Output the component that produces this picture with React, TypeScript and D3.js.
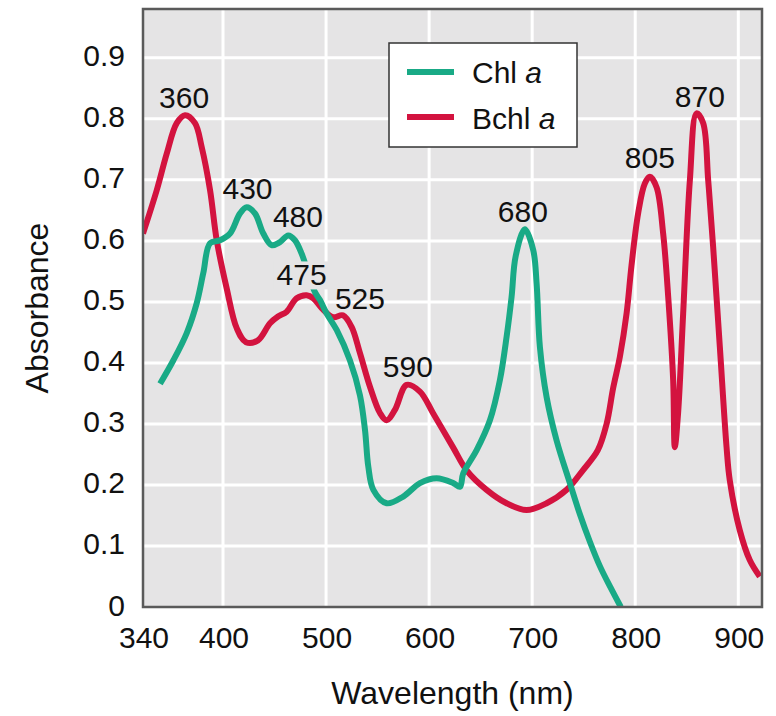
import React from "react";
import * as d3 from "d3";

// wavelength (nm) and absorbance
const chlWave = [352.8, 362.7, 372.8, 380.3, 385.2, 390.3, 397.8, 406.8, 416.5, 423, 431, 439.1, 447.2, 455.3, 463.3, 469.8, 476.3, 482.5, 489.2, 494.1, 500.6, 510.3, 523.2, 532.9, 537.8, 541, 545.9, 558.8, 574.9, 591.1, 607.3, 623.4, 629.9, 633.1, 646.1, 659, 668.7, 675.2, 680, 684, 692.9, 701, 704.3, 707.5, 714, 723.7, 736.6, 746.3, 756, 765.7, 776, 786];
const chlAbs = [0.366, 0.404, 0.449, 0.498, 0.547, 0.596, 0.601, 0.612, 0.645, 0.655, 0.645, 0.612, 0.593, 0.598, 0.609, 0.601, 0.579, 0.548, 0.516, 0.503, 0.481, 0.454, 0.404, 0.347, 0.29, 0.23, 0.192, 0.17, 0.181, 0.203, 0.211, 0.203, 0.197, 0.219, 0.257, 0.306, 0.372, 0.443, 0.508, 0.575, 0.619, 0.585, 0.53, 0.426, 0.344, 0.273, 0.203, 0.152, 0.107, 0.067, 0.032, 0.0];

const bchlWave = [340, 350.3, 357.8, 365.3, 371.5, 379, 384, 390.3, 395.3, 403.6, 413.3, 422.3, 433.9, 445.6, 453.4, 461.8, 471.5, 481.2, 487.6, 495.7, 506.7, 516.4, 524.8, 532.9, 542.6, 552.3, 558.8, 566.8, 578.2, 591.1, 603.7, 623.1, 636.4, 655.8, 675.2, 694.6, 714, 733.4, 749.2, 763.7, 772.2, 778.6, 785.1, 791.6, 796.4, 802.8, 809.3, 814.2, 820.7, 827.1, 832, 836.8, 838.4, 841.6, 846.5, 853, 859.5, 865.9, 870.8, 875.6, 882.1, 888.6, 891.7, 901.4, 911.1, 920.8];
const bchlAbs = [0.612, 0.683, 0.743, 0.793, 0.806, 0.793, 0.754, 0.683, 0.601, 0.522, 0.457, 0.434, 0.437, 0.465, 0.476, 0.484, 0.506, 0.511, 0.506, 0.49, 0.475, 0.478, 0.459, 0.416, 0.361, 0.318, 0.306, 0.323, 0.364, 0.353, 0.318, 0.262, 0.224, 0.192, 0.17, 0.159, 0.17, 0.192, 0.224, 0.257, 0.3, 0.359, 0.41, 0.481, 0.56, 0.645, 0.694, 0.705, 0.688, 0.612, 0.508, 0.372, 0.262, 0.318, 0.481, 0.699, 0.809, 0.793, 0.699, 0.59, 0.426, 0.262, 0.208, 0.126, 0.077, 0.05];

// peak annotations: label, wavelength and absorbance of the text anchor
const peakText = ["360", "430", "480", "475", "525", "590", "680", "805", "870"];
const peakWave = [370.8, 423.8, 472.7, 476.3, 532.9, 579.4, 691, 814.2, 862.7];
const peakAbs = [0.817, 0.669, 0.623, 0.527, 0.489, 0.377, 0.631, 0.719, 0.819];

const xTicks = [340, 400, 500, 600, 700, 800, 900];
const yTicks = [0, 0.1, 0.2, 0.3, 0.4, 0.5, 0.6, 0.7, 0.8, 0.9];

const GREEN = "#19aa86";
const RED = "#d3133f";
const FONT = "'Liberation Sans', Arial, Helvetica, sans-serif";

export default function App() {
  const width = 776;
  const height = 716;
  const left = 143, right = 762, top = 9, bottom = 607;

  // the axis is drawn stretched between 340 and 400
  const x = d3.scaleLinear().domain([340, 400, 923]).range([left, 223, right]);
  const y = d3.scaleLinear().domain([0, 0.98]).range([bottom, top]);

  const spectrum = d3
    .line<[number, number]>()
    .x((d) => x(d[0]))
    .y((d) => y(d[1]))
    .curve(d3.curveCatmullRom.alpha(0.5));

  const chlPath = spectrum(chlWave.map((w, i) => [w, chlAbs[i]] as [number, number]));
  const bchlPath = spectrum(bchlWave.map((w, i) => [w, bchlAbs[i]] as [number, number]));

  const fs = 30;
  const titleFs = 32;

  return (
    <svg
      width={width}
      height={height}
      style={{ position: "absolute", left: 0, top: 0, background: "#fff" }}
      fontFamily={FONT}
    >
      <defs>
        <clipPath id="plot">
          <rect x={left} y={top} width={right - left} height={bottom - top} />
        </clipPath>
      </defs>

      <rect x={left} y={top} width={right - left} height={bottom - top} fill="#e5e4e5" />

      {xTicks.slice(1).map((t) => (
        <line key={"gx" + t} x1={x(t)} x2={x(t)} y1={top} y2={bottom} stroke="#fff" strokeWidth={3} />
      ))}
      {yTicks.slice(1).map((t) => (
        <line key={"gy" + t} x1={left} x2={right} y1={y(t)} y2={y(t)} stroke="#fff" strokeWidth={3} />
      ))}

      <g clipPath="url(#plot)" fill="none" strokeWidth={6} strokeLinejoin="round">
        <path d={bchlPath || ""} stroke={RED} />
        <path d={chlPath || ""} stroke={GREEN} />
      </g>

      {peakText.map((t, i) => {
        const cx = x(peakWave[i]);
        const cy = y(peakAbs[i]);
        return (
          <g key={"pk" + i}>
            {t === "475" && (
              <rect x={cx - 28} y={cy - 24} width={56} height={28} fill="#e5e4e5" />
            )}
            <text x={cx} y={cy} textAnchor="middle" fontSize={fs} fill="#111">
              {t}
            </text>
          </g>
        );
      })}

      <rect
        x={left}
        y={top}
        width={right - left}
        height={bottom - top}
        fill="none"
        stroke="#5a5a5a"
        strokeWidth={2.5}
      />

      {yTicks.map((t) => (
        <text
          key={"ty" + t}
          x={125}
          y={y(t) - 2}
          textAnchor="end"
          dominantBaseline="central"
          fontSize={fs}
          fill="#111"
        >
          {t === 0 ? "0" : t.toFixed(1)}
        </text>
      ))}
      {xTicks.map((t) => (
        <text key={"tx" + t} x={x(t) + 1} y={648} textAnchor="middle" fontSize={fs} fill="#111">
          {t}
        </text>
      ))}

      <text x={(left + right) / 2} y={704} textAnchor="middle" fontSize={titleFs} fill="#111">
        Wavelength (nm)
      </text>
      <text
        transform={`translate(48,${(top + bottom) / 2}) rotate(-90)`}
        textAnchor="middle"
        fontSize={titleFs}
        fill="#111"
      >
        Absorbance
      </text>

      <g>
        <rect x={389} y={43} width={188} height={104} fill="#fff" stroke="#333" strokeWidth={1.5} />
        <line x1={407} x2={454} y1={72} y2={72} stroke={GREEN} strokeWidth={6} />
        <line x1={407} x2={454} y1={117} y2={117} stroke={RED} strokeWidth={6} />
        <text x={472} y={83} fontSize={fs} fill="#111">
          Chl <tspan fontStyle="italic">a</tspan>
        </text>
        <text x={472} y={129} fontSize={fs} fill="#111">
          Bchl <tspan fontStyle="italic">a</tspan>
        </text>
      </g>
    </svg>
  );
}
